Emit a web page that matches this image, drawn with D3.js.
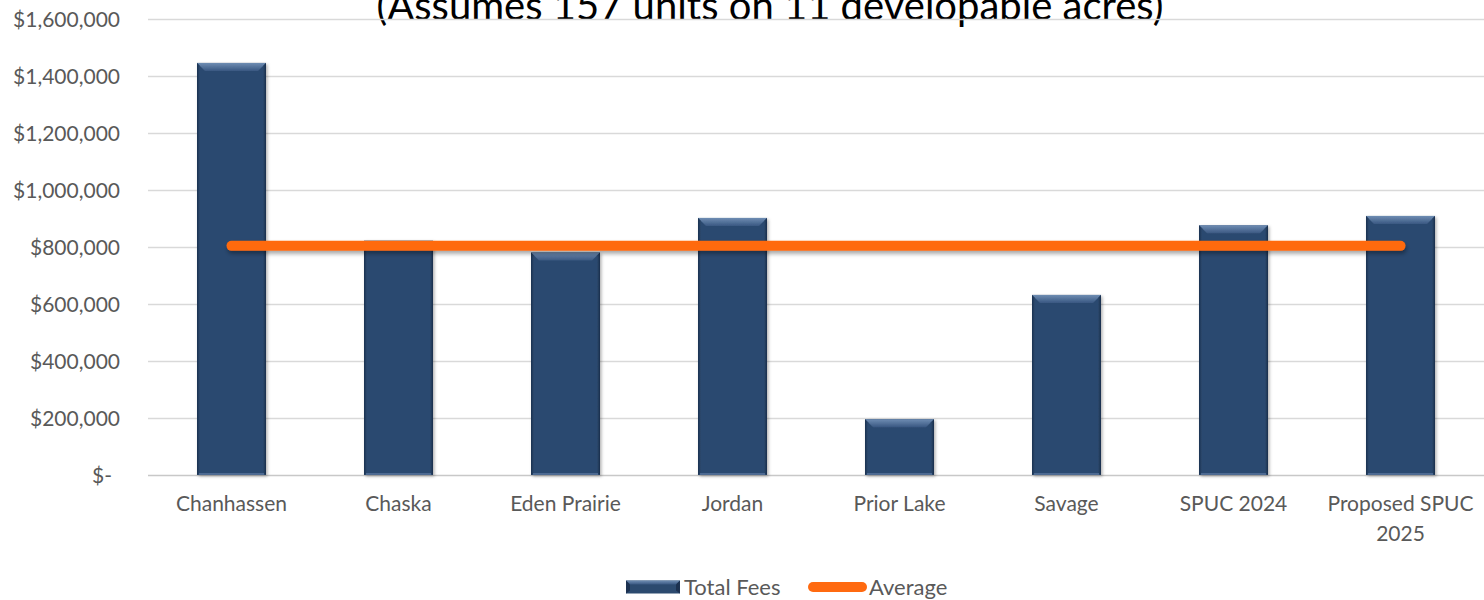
<!DOCTYPE html>
<html>
<head>
<meta charset="utf-8">
<script src="https://cdn.jsdelivr.net/npm/d3@7"></script>
<style>
  html, body { margin: 0; padding: 0; background: #ffffff; }
  svg { display: block; font-family: Lato, "Open Sans", sans-serif; }
</style>
</head>
<body>
<svg id="chart" width="1484" height="600"></svg>
<script>
// Development fees by city, with the average across cities
const categories = ["Chanhassen", "Chaska", "Eden Prairie", "Jordan", "Prior Lake", "Savage", "SPUC 2024", "Proposed SPUC 2025"];
const totalFees = [1446000, 822000, 781000, 902000, 196000, 632000, 876000, 909000];
const averageFees = [804000, 804000, 804000, 804000, 804000, 804000, 804000, 804000];
const yTicks = [0, 200000, 400000, 600000, 800000, 1000000, 1200000, 1400000, 1600000];
const titleText = "(Assumes 157 units on 11 developable acres)";
const seriesNames = ["Total Fees", "Average"];

const svg = d3.select("#chart");
const W = 1484, H = 600;
const margin = { top: 19, right: 0, bottom: 125, left: 148 };
const labelSize = "21px";

const x = d3.scaleBand()
  .domain(categories)
  .range([margin.left, W - margin.right])
  .paddingInner(0.587)
  .paddingOuter(0.2935);

const y = d3.scaleLinear()
  .domain([0, 1600000])
  .range([H - margin.bottom, margin.top]);

const barColor = "#2C4A6F";
const lineColor = "#FF6A10";

// ---- defs: bevel gradients and shadows
const defs = svg.append("defs");
const topGrad = defs.append("linearGradient").attr("id", "bevelTop").attr("x1", 0).attr("y1", 0).attr("x2", 0).attr("y2", 1);
topGrad.append("stop").attr("offset", "0%").attr("stop-color", "#6F8DB3");
topGrad.append("stop").attr("offset", "100%").attr("stop-color", "#3A5882");

const leftGrad = defs.append("linearGradient").attr("id", "bevelLeft").attr("x1", 0).attr("y1", 0).attr("x2", 1).attr("y2", 0);
leftGrad.append("stop").attr("offset", "0%").attr("stop-color", "#1C3150");
leftGrad.append("stop").attr("offset", "100%").attr("stop-color", "#2C4A6F");

const rightGrad = defs.append("linearGradient").attr("id", "bevelRight").attr("x1", 0).attr("y1", 0).attr("x2", 1).attr("y2", 0);
rightGrad.append("stop").attr("offset", "0%").attr("stop-color", "#2C4A6F");
rightGrad.append("stop").attr("offset", "100%").attr("stop-color", "#1A2E4B");

const barShadow = defs.append("filter").attr("id", "barShadow").attr("x", "-20%").attr("y", "-10%").attr("width", "140%").attr("height", "120%");
barShadow.append("feDropShadow").attr("dx", 1.5).attr("dy", 1.5).attr("stdDeviation", 1.5)
  .attr("flood-color", "#000").attr("flood-opacity", 0.3);

// flat line has a zero-height bbox, so the shadow region is given in user space
const lineShadow = defs.append("filter").attr("id", "lineShadow")
  .attr("filterUnits", "userSpaceOnUse")
  .attr("x", 0).attr("y", 0).attr("width", W).attr("height", H);
lineShadow.append("feDropShadow").attr("dx", 1).attr("dy", 3).attr("stdDeviation", 2.2)
  .attr("flood-color", "#000").attr("flood-opacity", 0.35);

// ---- title (partly above the top edge)
svg.append("text")
  .attr("x", 770)
  .attr("y", 20)
  .attr("text-anchor", "middle")
  .attr("fill", "#000")
  .style("font-size", "40px")
  .text(titleText);

// ---- gridlines
svg.append("g")
  .selectAll("line")
  .data(yTicks)
  .join("line")
  .attr("x1", margin.left)
  .attr("x2", W - margin.right)
  .attr("y1", d => Math.round(y(d)) + 0.5)
  .attr("y2", d => Math.round(y(d)) + 0.5)
  .attr("stroke", d => d === 0 ? "#C8C8C8" : "#D9D9D9")
  .attr("stroke-width", 1.3);

// ---- y axis labels
const yAxis = d3.axisLeft(y)
  .tickValues(yTicks)
  .tickSize(0)
  .tickPadding(0)
  .tickFormat(d => d === 0 ? "$-" : "$" + d3.format(",")(d));

const yg = svg.append("g")
  .attr("transform", `translate(${margin.left - 28},0)`)
  .call(yAxis);
yg.select(".domain").remove();
yg.selectAll("text")
  .attr("fill", "#595959")
  .style("font-size", labelSize)
  .style("font-family", "Lato, 'Open Sans', sans-serif")
  .attr("dy", "0.35em")
  .attr("dx", d => d === 0 ? -8 : 0);

// ---- bars with a bevelled face
const bevel = 8;
const bars = svg.append("g")
  .selectAll("g.bar")
  .data(categories.map((c, i) => ({ c, v: totalFees[i] })))
  .join("g")
  .attr("class", "bar")
  .attr("filter", "url(#barShadow)");

bars.append("rect")
  .attr("x", d => x(d.c))
  .attr("y", d => y(d.v))
  .attr("width", x.bandwidth())
  .attr("height", d => y(0) - y(d.v))
  .attr("fill", barColor);

bars.append("path")
  .attr("fill", "url(#bevelTop)")
  .attr("d", d => {
    const x0 = x(d.c), x1 = x0 + x.bandwidth(), y0 = y(d.v);
    return `M${x0},${y0}L${x1},${y0}L${x1 - bevel},${y0 + bevel}L${x0 + bevel},${y0 + bevel}Z`;
  });

bars.append("path")
  .attr("fill", "url(#bevelLeft)")
  .attr("d", d => {
    const x0 = x(d.c), y0 = y(d.v), y1 = y(0);
    return `M${x0},${y0}L${x0 + 3},${y0 + 3}L${x0 + 3},${y1 - 2}L${x0},${y1}Z`;
  });

bars.append("path")
  .attr("fill", "url(#bevelRight)")
  .attr("d", d => {
    const x1 = x(d.c) + x.bandwidth(), y0 = y(d.v), y1 = y(0);
    return `M${x1},${y0}L${x1 - 3},${y0 + 3}L${x1 - 3},${y1 - 2}L${x1},${y1}Z`;
  });

bars.append("rect")
  .attr("x", d => x(d.c) + 2)
  .attr("y", y(0) - 2)
  .attr("width", x.bandwidth() - 4)
  .attr("height", 2)
  .attr("fill", "#4D6A92");

// ---- average line
const line = d3.line()
  .x((d, i) => x(categories[i]) + x.bandwidth() / 2)
  .y(d => y(d));

svg.append("path")
  .datum(averageFees)
  .attr("d", line)
  .attr("fill", "none")
  .attr("stroke", lineColor)
  .attr("stroke-width", 10)
  .attr("stroke-linecap", "round")
  .attr("filter", "url(#lineShadow)");

// ---- x axis labels (wrapped to the band step)
const xAxis = d3.axisBottom(x).tickSize(0).tickPadding(0);
const xg = svg.append("g")
  .attr("transform", `translate(0,${y(0) + 21})`)
  .call(xAxis);
xg.select(".domain").remove();
xg.selectAll("text")
  .attr("fill", "#595959")
  .style("font-size", labelSize)
  .style("font-family", "Lato, 'Open Sans', sans-serif")
  .call(wrap, x.step() - 4);

function wrap(sel, width) {
  sel.each(function () {
    const text = d3.select(this);
    const words = text.text().split(/\s+/);
    const yAttr = text.attr("y");
    const dy = parseFloat(text.attr("dy")) || 0;
    text.text(null);
    let lines = [[]];
    let tspan = text.append("tspan").attr("x", 0).attr("y", yAttr).attr("dy", dy + "em");
    words.forEach(w => {
      const cur = lines[lines.length - 1];
      cur.push(w);
      tspan.text(cur.join(" "));
      if (tspan.node().getComputedTextLength() > width && cur.length > 1) {
        cur.pop();
        tspan.text(cur.join(" "));
        lines.push([w]);
        tspan = text.append("tspan").attr("x", 0).attr("y", yAttr)
          .attr("dy", (dy + 1.45 * (lines.length - 1)) + "em").text(w);
      }
    });
  });
}

// ---- legend
const legend = svg.append("g").attr("transform", "translate(0,587)");
const swX = 626, swW = 54, swH = 13;
legend.append("rect")
  .attr("x", swX).attr("y", -swH / 2).attr("width", swW).attr("height", swH)
  .attr("fill", barColor);
legend.append("path")
  .attr("fill", "url(#bevelTop)")
  .attr("d", `M${swX},${-swH / 2}L${swX + swW},${-swH / 2}L${swX + swW - 4},${-swH / 2 + 4}L${swX + 4},${-swH / 2 + 4}Z`);
legend.append("path")
  .attr("fill", "#1C3150")
  .attr("d", `M${swX},${-swH / 2}L${swX + 4},${-swH / 2 + 4}L${swX + 4},${swH / 2 - 3}L${swX},${swH / 2}Z`);
legend.append("path")
  .attr("fill", "#1C3150")
  .attr("d", `M${swX + swW},${-swH / 2}L${swX + swW - 4},${-swH / 2 + 4}L${swX + swW - 4},${swH / 2 - 3}L${swX + swW},${swH / 2}Z`);
legend.append("text")
  .attr("x", swX + swW + 4).attr("y", 0).attr("dy", "0.35em")
  .attr("fill", "#595959").style("font-size", "22px")
  .text(seriesNames[0]);

legend.append("line")
  .attr("x1", 813).attr("x2", 862).attr("y1", 0).attr("y2", 0)
  .attr("stroke", lineColor).attr("stroke-width", 10).attr("stroke-linecap", "round");
legend.append("text")
  .attr("x", 869).attr("y", 0).attr("dy", "0.35em")
  .attr("fill", "#595959").style("font-size", "22px")
  .text(seriesNames[1]);
</script>
</body>
</html>
